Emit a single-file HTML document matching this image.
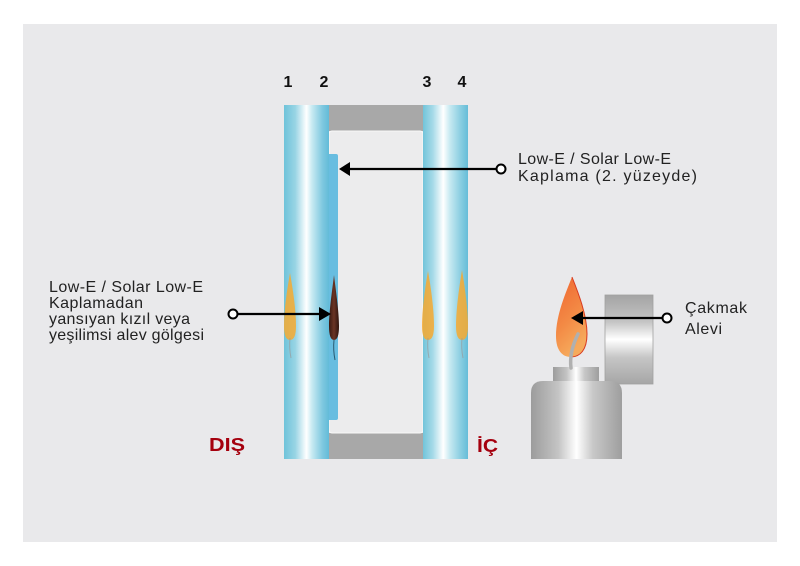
<!DOCTYPE html>
<html>
<head>
<meta charset="utf-8">
<style>
html,body{margin:0;padding:0;background:#fff;}
svg{display:block;}
text{font-family:"Liberation Sans",Arial,sans-serif;}
</style>
</head>
<body>
<svg width="800" height="566" viewBox="0 0 800 566" xmlns="http://www.w3.org/2000/svg">
<defs>
<linearGradient id="paneL" x1="0" y1="0" x2="1" y2="0">
<stop offset="0" stop-color="#6fc3da"/>
<stop offset="0.25" stop-color="#98d4e4"/>
<stop offset="0.5" stop-color="#ffffff"/>
<stop offset="0.62" stop-color="#c8eaf2"/>
<stop offset="0.85" stop-color="#80c9e0"/>
<stop offset="1" stop-color="#62bbd8"/>
</linearGradient>
<linearGradient id="paneR" x1="0" y1="0" x2="1" y2="0">
<stop offset="0" stop-color="#72c4da"/>
<stop offset="0.22" stop-color="#a6dae8"/>
<stop offset="0.45" stop-color="#ffffff"/>
<stop offset="0.6" stop-color="#c6e9f1"/>
<stop offset="0.85" stop-color="#86cce0"/>
<stop offset="1" stop-color="#66bdd8"/>
</linearGradient>
<linearGradient id="metalH" x1="0" y1="0" x2="1" y2="0">
<stop offset="0" stop-color="#9c9c9c"/>
<stop offset="0.3" stop-color="#c4c4c4"/>
<stop offset="0.5" stop-color="#ffffff"/>
<stop offset="0.68" stop-color="#c8c8c8"/>
<stop offset="1" stop-color="#9e9e9e"/>
</linearGradient>
<linearGradient id="metalV" x1="0" y1="0" x2="0" y2="1">
<stop offset="0" stop-color="#a4a4a4"/>
<stop offset="0.3" stop-color="#c4c4c4"/>
<stop offset="0.5" stop-color="#ffffff"/>
<stop offset="0.7" stop-color="#c6c6c6"/>
<stop offset="1" stop-color="#a6a6a6"/>
</linearGradient>
<linearGradient id="flameG" x1="0" y1="0" x2="0.4" y2="1">
<stop offset="0" stop-color="#ef6430"/>
<stop offset="0.6" stop-color="#f38a45"/>
<stop offset="1" stop-color="#f6aa5c"/>
</linearGradient>
<linearGradient id="darkF" x1="0" y1="0" x2="1" y2="0">
<stop offset="0" stop-color="#3a1a12"/>
<stop offset="0.5" stop-color="#6a3424"/>
<stop offset="1" stop-color="#2e140e"/>
</linearGradient>
</defs>

<rect x="0" y="0" width="800" height="566" fill="#ffffff"/>
<rect x="23" y="24" width="754" height="518" fill="#e9e9eb"/>

<!-- spacer -->
<rect x="329" y="105" width="94" height="26" fill="#a8a8a8"/>
<rect x="329" y="433" width="94" height="26" fill="#a8a8a8"/>
<rect x="329" y="131" width="94" height="302" rx="3" fill="#ececed" stroke="#f8f8f8" stroke-width="1"/>

<!-- panes -->
<rect x="284" y="105" width="45" height="354" fill="url(#paneL)"/>
<path d="M329,154 L336,154 Q338,154 338,156 L338,418 Q338,420 336,420 L329,420 Z" fill="#68bde0"/>
<rect x="423" y="105" width="45" height="354" fill="url(#paneR)"/>

<!-- flames in panes -->
<g opacity="0.85">
<path d="M290,273 C293,290 296,310 296,326 Q296,340 290,340 Q284,340 284,326 C284,310 287,290 290,273 Z" fill="#f7aa30"/>
<path d="M428,271 C431,288 434,310 434,326 Q434,340 428,340 Q422,340 422,326 C422,310 425,288 428,271 Z" fill="#f7aa30"/>
<path d="M462,270 C465,288 468,310 468,326 Q468,340 462,340 Q456,340 456,326 C456,310 459,288 462,270 Z" fill="#f7aa30"/>
</g>
<g stroke="#9a9a9a" stroke-width="1" fill="none" opacity="0.7">
<path d="M290,338 Q289,348 291,358"/>
<path d="M428,338 Q427,348 429,358"/>
<path d="M462,338 Q461,348 463,358"/>
</g>
<path d="M334,275 C336,292 339,312 339,326 Q339,340 334,340 Q329,340 329,326 C329,312 332,292 334,275 Z" fill="url(#darkF)"/>
<path d="M334,340 Q333,350 335,360" stroke="#2a5a70" stroke-width="1" fill="none"/>

<!-- lighter -->
<rect x="605" y="295" width="48" height="89" fill="url(#metalV)" stroke="#a0a0a0" stroke-width="0.8"/>
<path d="M531,393 Q531,381 543,381 L610,381 Q622,381 622,393 L622,459 L531,459 Z" fill="url(#metalH)"/>
<rect x="553" y="367" width="46" height="14" fill="url(#metalH)"/>
<path d="M572,277 C578,292 587,315 587,334 C587,350 580,357 571,357 C562,357 556,350 556,336 C556,315 566,292 572,277 Z" fill="url(#flameG)"/>
<path d="M572,277 C578,292 587,315 587,334 C587,350 580,357 571,357" fill="none" stroke="#d83a20" stroke-width="1"/>
<path d="M571,368 Q569,352 578,334" stroke="#b0b0b0" stroke-width="3.5" fill="none" stroke-linecap="round"/>

<!-- connectors -->
<g stroke="#000" stroke-width="2.2" fill="none">
<line x1="497" y1="169" x2="348" y2="169"/>
<line x1="237" y1="314" x2="320" y2="314"/>
<line x1="662" y1="318" x2="580" y2="318"/>
</g>
<polygon points="339,169 350,162 350,176" fill="#000"/>
<polygon points="331,314 319,307 319,321" fill="#000"/>
<polygon points="571,318 583,311 583,325" fill="#000"/>
<g fill="#fff" stroke="#000" stroke-width="2">
<circle cx="501" cy="169" r="4.5"/>
<circle cx="233" cy="314" r="4.5"/>
<circle cx="667" cy="318" r="4.5"/>
</g>

<!-- numbers -->
<g font-size="16" font-weight="bold" fill="#111" text-anchor="middle">
<text x="288" y="87">1</text>
<text x="324" y="87">2</text>
<text x="427" y="87">3</text>
<text x="462" y="87">4</text>
</g>

<!-- labels -->
<g font-size="16" fill="#222">
<text x="518" y="164" textLength="153" lengthAdjust="spacing">Low-E / Solar Low-E</text>
<text x="518" y="181" textLength="179" lengthAdjust="spacing">Kaplama (2. yüzeyde)</text>

<text x="49" y="292" textLength="154" lengthAdjust="spacing">Low-E / Solar Low-E</text>
<text x="49" y="308" textLength="94" lengthAdjust="spacing">Kaplamadan</text>
<text x="49" y="324" textLength="141" lengthAdjust="spacing">yansıyan kızıl veya</text>
<text x="49" y="340" textLength="155" lengthAdjust="spacing">yeşilimsi alev gölgesi</text>

<text x="685" y="313" textLength="62" lengthAdjust="spacing">Çakmak</text>
<text x="685" y="334" textLength="37" lengthAdjust="spacing">Alevi</text>
</g>

<g font-size="18" font-weight="bold" fill="#a5000e">
<text x="209" y="451" textLength="36" lengthAdjust="spacingAndGlyphs">DIŞ</text>
<text x="477" y="452" textLength="21" lengthAdjust="spacingAndGlyphs">İÇ</text>
</g>
</svg>
</body>
</html>
